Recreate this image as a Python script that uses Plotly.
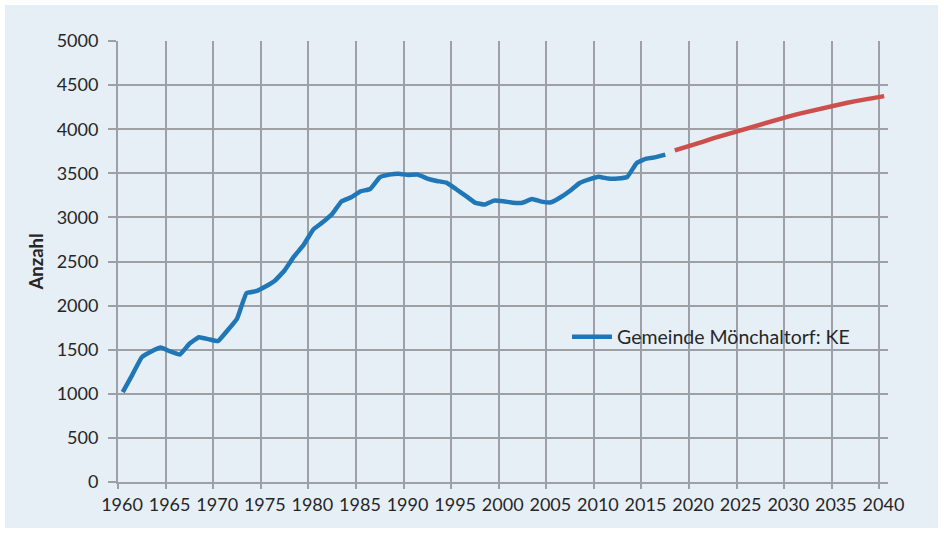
import plotly.graph_objects as go

# Data
years_hist = list(range(1960, 2018))
values_hist = [1020, 1215, 1415, 1480, 1525, 1480, 1445, 1567, 1642, 1620,
               1597, 1718, 1850, 2141, 2164, 2217, 2285, 2398, 2557, 2688,
               2861, 2944, 3039, 3183, 3228, 3296, 3322, 3455, 3485, 3496,
               3481, 3485, 3440, 3413, 3394, 3322, 3247, 3168, 3145, 3190,
               3183, 3167, 3167, 3209, 3179, 3171, 3228, 3303, 3390, 3432,
               3462, 3440, 3440, 3458, 3617, 3666, 3683, 3712]
years_proj = list(range(2018, 2041))
values_proj = [3760, 3790, 3825, 3860, 3895, 3928, 3960, 3993, 4025, 4056,
               4087, 4117, 4146, 4174, 4201, 4227, 4252, 4275, 4297, 4318,
               4338, 4357, 4375]
tick_labels = [str(y) for y in range(1960, 2041, 5)]
y_ticks = list(range(0, 5001, 500))
series_name = "Gemeinde Mönchaltorf: KE"

W, H = 944, 534
ML, MR, MT, MB = 118, 56, 41, 52
PW, PH = W - ML - MR, H - MT - MB

BLUE = "#1F77B7"
RED = "#CC4F4C"
GRID = "#9DA1A6"
BG = "#E7EFF6"
TXT = "#262626"

fig = go.Figure()
fig.add_trace(go.Scatter(x=years_hist, y=values_hist, mode="lines",
                         name=series_name,
                         line=dict(color=BLUE, width=4.5, shape="spline", smoothing=0.3)))
fig.add_trace(go.Scatter(x=years_proj, y=values_proj, mode="lines",
                         showlegend=False,
                         line=dict(color=RED, width=4.5)))

# background panel with small white border
fig.add_shape(type="rect", xref="paper", yref="paper", layer="below",
              x0=(5 - ML) / PW, x1=(938 - ML) / PW,
              y0=(H - MB - 528) / PH, y1=(H - MB - 5) / PH,
              fillcolor=BG, line=dict(width=0))

fig.update_layout(
    width=W, height=H,
    margin=dict(l=ML, r=MR, t=MT, b=MB),
    paper_bgcolor="white",
    plot_bgcolor="rgba(0,0,0,0)",
    font=dict(family="Lato", size=18, color=TXT),
    showlegend=True,
    legend=dict(x=(567 - ML) / PW, y=(H - MB - 337) / PH, xanchor="left",
                yanchor="middle", bgcolor="rgba(0,0,0,0)",
                font=dict(family="Lato", size=19.5, color=TXT),
                itemwidth=40),
)

fig.update_xaxes(
    range=[1959.5, 2040.4],
    tickvals=[int(t) - 0.5 for t in tick_labels],
    ticktext=tick_labels,
    showgrid=True, gridcolor=GRID, gridwidth=2,
    ticks="outside", ticklen=5, tickcolor=GRID, tickwidth=2,
    ticklabelshift=4,
    showline=True, linecolor=GRID, linewidth=2,
    zeroline=False,
    tickfont=dict(family="Lato", size=18, color=TXT),
)
fig.update_yaxes(
    range=[0, 5000],
    tickvals=y_ticks,
    showgrid=True, gridcolor=GRID, gridwidth=2,
    ticks="outside", ticklen=8, tickcolor=GRID, tickwidth=2,
    ticklabelstandoff=6,
    showline=True, linecolor=GRID, linewidth=2,
    zeroline=False,
    tickfont=dict(family="Lato", size=18, color=TXT),
    title=dict(text="<b>Anzahl</b>", standoff=8,
               font=dict(family="Lato", size=18.5, color=TXT)),
)

fig.write_html("out.html",
               config={"displayModeBar": False},
               post_script="document.body.style.margin='0';document.body.style.padding='0';")
